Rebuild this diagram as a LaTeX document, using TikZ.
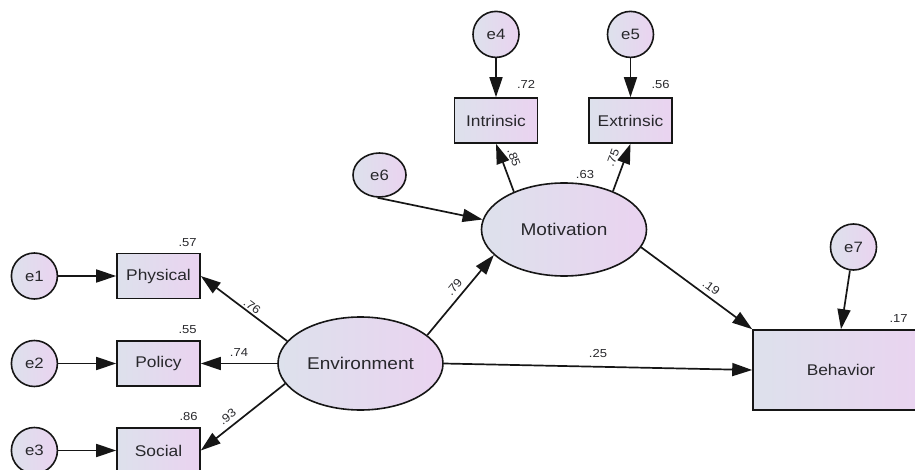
\documentclass[tikz,border=0pt]{standalone}
\usepackage{fontspec}
\setmainfont{Liberation Sans}[FakeStretch=1.12]
\usetikzlibrary{shapes.geometric,arrows.meta,positioning}
\definecolor{semFillLeft}{RGB}{221,225,236}
\definecolor{semFillRight}{RGB}{234,211,240}
\definecolor{semLine}{RGB}{22,22,22}
\definecolor{semText}{RGB}{40,40,44}
\tikzset{
  semshade/.style={left color=semFillLeft, right color=semFillRight, draw=semLine, line width=1.6pt,
    text=semText},
  latentvar/.style={ellipse, semshade, minimum width=165pt, minimum height=93pt, inner sep=0pt,
    font=\fontsize{17}{20}\selectfont},
  observedbox/.style={rectangle, semshade, minimum width=83pt, minimum height=45pt, inner sep=0pt,
    font=\fontsize{15.5}{18}\selectfont},
  errorvar/.style={circle, semshade, minimum size=46pt, inner sep=0pt,
    font=\fontsize{15}{18}\selectfont},
  loadlabel/.style={font=\fontsize{11.6}{13}\selectfont, text=semText, inner sep=1.5pt},
  r2label/.style={font=\fontsize{11.6}{13}\selectfont, text=semText, anchor=south east, inner sep=0pt},
  patharrow/.style={-{Triangle[length=20pt,width=13pt]}, draw=semLine, line width=1.7pt},
}
\begin{document}
\begin{tikzpicture}[x=1pt, y=-1pt]
  \useasboundingbox (0,0) rectangle (915,470);

  % latent variables
  \node[latentvar] (env) at (360.5,363.5) {Environment};
  \node[latentvar] (motiv) at (564,229.5) {Motivation};

  % observed variables
  \node[observedbox] (physical) at (158.5,276) {Physical};
  \node[observedbox] (policy) at (158.5,363.5) {Policy};
  \node[observedbox] (social) at (158.5,450.5) {Social};
  \node[observedbox] (intrinsic) at (496,120.5) {Intrinsic};
  \node[observedbox] (extrinsic) at (630.5,120.5) {Extrinsic};
  \node[observedbox, minimum width=176pt, minimum height=80pt] (behavior) at (841,370) {Behavior};

  % error terms
  \node[errorvar, left=58pt of physical] (e1) {e1};
  \node[errorvar, left=58pt of policy] (e2) {e2};
  \node[errorvar, left=58pt of social] (e3) {e3};
  \node[errorvar, above=39pt of intrinsic] (e4) {e4};
  \node[errorvar, above=39pt of extrinsic] (e5) {e5};
  \node[errorvar, ellipse, minimum width=53pt, minimum height=44pt] (e6) at (379.5,175) {e6};
  \node[errorvar] (e7) at (853.5,247) {e7};

  % squared multiple correlations
  \node[r2label] (r2phys) at ([shift={(-4,-6)}]physical.north east) {.57};
  \node[r2label] (r2pol) at ([shift={(-4,-6)}]policy.north east) {.55};
  \node[r2label] (r2soc) at ([shift={(-3,-6)}]social.north east) {.86};
  \node[r2label] (r2intr) at ([shift={(-3,-8)}]intrinsic.north east) {.72};
  \node[r2label] (r2extr) at ([shift={(-3,-8)}]extrinsic.north east) {.56};
  \node[r2label] (r2beh) at ([shift={(-22,-7)}]behavior.north east) {.17};
  \node[r2label, anchor=south] (r2mot) at ([shift={(21,-3)}]motiv.north) {.63};

  % error paths
  \draw[patharrow] (e1) -- (physical);
  \draw[patharrow] (e2) -- (policy);
  \draw[patharrow] (e3) -- (social);
  \draw[patharrow] (e4) -- (intrinsic);
  \draw[patharrow] (e5) -- (extrinsic);
  \draw[patharrow] (e6.265) -- (motiv.173);
  \draw[patharrow] (e7) -- (behavior.north);

  % loadings and structural paths
  \draw[patharrow] (env.163) -- node[loadlabel, sloped, above, pos=0.45] (l76) {.76} (physical.east);
  \draw[patharrow] (env.west) -- node[loadlabel, above, pos=0.5, inner sep=6.5pt] (l74) {.74} (policy.east);
  \draw[patharrow] (env.195) -- node[loadlabel, sloped, above, pos=0.61, inner sep=5pt] (l93) {.93} (social.east);
  \draw[patharrow] (motiv.143) -- node[loadlabel, sloped, above, pos=0.62, inner sep=7pt] (l85) {.85} (intrinsic.south);
  \draw[patharrow] (motiv.38) -- node[loadlabel, sloped, above, pos=0.62, inner sep=7pt] (l75) {.75} (extrinsic.south);
  \draw[patharrow] (env.23) -- node[loadlabel, sloped, above, pos=0.52, inner sep=5pt] (l79) {.79} (motiv.200);
  \draw[patharrow] (motiv.347) -- node[loadlabel, sloped, above, pos=0.58, inner sep=4.5pt] (l19) {.19} (behavior.north west);
  \draw[patharrow] (env.east) -- node[loadlabel, above, pos=0.5, inner sep=8pt] (l25) {.25} (behavior.west);
\end{tikzpicture}
\end{document}
